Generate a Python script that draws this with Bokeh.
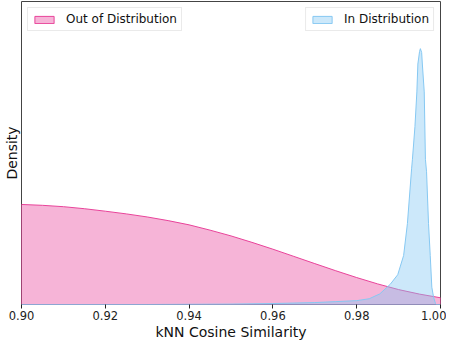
from bokeh.plotting import figure
from bokeh.models import Range1d, FixedTicker, PrintfTickFormatter, Legend, LegendItem
from bokeh.embed import file_html
from bokeh.resources import INLINE

# Out of Distribution density
ood_x = [0.900, 0.905, 0.910, 0.915, 0.920, 0.925, 0.930, 0.935, 0.940, 0.945,
         0.950, 0.955, 0.960, 0.965, 0.970, 0.975, 0.980, 0.985, 0.990, 0.995, 1.000]
ood_y = [104, 103.1, 101.7, 99.6, 97, 94.2, 91, 87.2, 82.8, 77.3,
         71.3, 64.6, 57.5, 50, 42.5, 35.1, 28, 21.4, 15.5, 10.8, 7]

# In Distribution density
id_x = [0.900, 0.930, 0.950, 0.960, 0.970, 0.975, 0.980, 0.983, 0.9855, 0.988,
        0.9898, 0.9912, 0.9921, 0.9931, 0.9933, 0.9939, 0.99436, 0.9946, 0.9950, 0.9952,
        0.9955, 0.99567, 0.99612, 0.9964, 0.99667, 0.99714, 0.99755, 0.99793, 0.99833, 0.9988,
        0.9990, 1.000]
id_y = [0, 0, 0.4, 1, 2, 3, 4, 6, 11, 21,
        31, 51, 84, 141, 151, 185, 221, 250, 263, 266,
        262, 250, 221, 151, 138, 84, 51, 18, 8, 1,
        0, 0]

x_ticks = [0.90, 0.92, 0.94, 0.96, 0.98, 1.00]

PINK = "#e8449a"
BLUE = "#86c8f2"

p = figure(width=446, height=342, output_backend="svg", toolbar_location=None,
           x_range=Range1d(0.90, 1.00), y_range=Range1d(0, 315),
           min_border_left=0, min_border_right=6, min_border_top=1, min_border_bottom=0)

p.xgrid.visible = False
p.ygrid.visible = False
p.outline_line_color = "#444444"
p.outline_line_width = 1
p.background_fill_color = "white"

r_ood = p.patch(ood_x + [ood_x[-1], ood_x[0]], ood_y + [0, 0],
                fill_color=PINK, fill_alpha=0.4, line_color=PINK, line_width=1)
r_id = p.patch(id_x + [id_x[-1], id_x[0]], id_y + [0, 0],
               fill_color=BLUE, fill_alpha=0.42, line_color=BLUE, line_width=1)

xa = p.xaxis[0]
xa.ticker = FixedTicker(ticks=x_ticks)
xa.formatter = PrintfTickFormatter(format="%.2f")
xa.axis_line_color = None
xa.major_tick_out = 4
xa.major_tick_in = 0
xa.minor_tick_line_color = None
xa.major_tick_line_color = "#222222"
xa.major_label_text_font = "DejaVu Sans"
xa.major_label_text_font_size = "11.5px"
xa.major_label_text_color = "#222222"
xa.major_label_standoff = 2
xa.axis_label = "kNN Cosine Similarity"
xa.axis_label_text_font = "DejaVu Sans"
xa.axis_label_text_font_size = "14px"
xa.axis_label_text_font_style = "normal"
xa.axis_label_text_color = "#111111"
xa.axis_label_standoff = 1

ya = p.yaxis[0]
ya.ticker = FixedTicker(ticks=[])
ya.axis_line_color = None
ya.major_tick_out = 0
ya.major_tick_in = 0
ya.minor_tick_line_color = None
ya.major_label_text_font_size = "0px"
ya.major_label_standoff = 0
ya.axis_label = "Density"
ya.axis_label_text_font = "DejaVu Sans"
ya.axis_label_text_font_size = "14px"
ya.axis_label_text_font_style = "normal"
ya.axis_label_text_color = "#111111"
ya.axis_label_standoff = 2

leg1 = Legend(items=[LegendItem(label="Out of Distribution", renderers=[r_ood])],
              location="top_left")
leg2 = Legend(items=[LegendItem(label="In Distribution", renderers=[r_id])],
              location="top_right")
for leg in (leg1, leg2):
    leg.label_text_font = "DejaVu Sans"
    leg.label_text_font_size = "12px"
    leg.label_text_color = "#111111"
    leg.glyph_width = 24
    leg.glyph_height = 9
    leg.label_height = 13
    leg.label_standoff = 10
    leg.padding = 4
    leg.margin = 6
    leg.spacing = 0
    leg.border_line_color = "#d5d5d5"
    leg.border_line_width = 1
    leg.background_fill_color = "white"
    leg.background_fill_alpha = 0.8
    p.add_layout(leg, "center")

open("out.html", "w").write(file_html(p, INLINE))
